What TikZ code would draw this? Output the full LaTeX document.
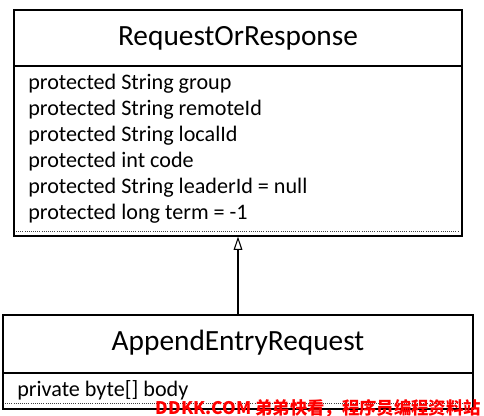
\documentclass[tikz,border=0pt]{standalone}
\usepackage{fontspec}
\setmainfont{Carlito}
\newfontfamily\cjk{Noto Sans CJK SC}
\usetikzlibrary{
    arrows.meta,
    positioning
}
\tikzset{umlbox/.style={draw=black, line width=0.8pt, inner sep=0pt}}
\tikzset{umltitle/.style={inner sep=0pt, font=\fontsize{22}{26}\selectfont}}
\tikzset{umlattr/.style={anchor=west, inner sep=0pt, font=\fontsize{16.6}{19.5}\selectfont}}
\tikzset{umlsep/.style={densely dotted, line width=0.6pt, black!75}}

\begin{document}
\begin{tikzpicture}[x=0.75pt, y=-0.75pt]
                        \useasboundingbox (0,0) rectangle (484,416);
                        % parent class
                        \node[umlbox, minimum width=336pt, minimum height=169.5pt] (ror) at (238,123) {};
                        \node[umltitle] (rortitle) at (238,38) {RequestOrResponse};
                        \draw[line width=0.8pt] (14,66) -- (462,66);
                        \foreach \txt [count=\i] in {protected String group, protected String remoteId, protected String localId, protected int code, protected String leaderId = null, protected long term = -1}
                            \node[umlattr] (attr\i) at (28, {58+26*\i}) {\txt};
                        \draw[umlsep] (16,231) -- (459,231);
                        % child class
                        \node[umlbox, minimum width=352.5pt, minimum height=70.5pt] (aer) at (238,362) {};
                        \node[umltitle] (aertitle) at (238,343) {AppendEntryRequest};
                        \draw[line width=0.8pt] (3,373) -- (473,373);
                        \node[umlattr] (body) at (17,390) {private byte[] body};
                        \draw[umlsep] (5,403) -- (470,403);
                        \draw[-{Triangle[open, length=10pt, width=6.5pt]}, line width=0.8pt]
                        (aer.north) -- (ror.south);
                        \node[anchor=east, text=red, inner sep=0pt, font=\cjk\bfseries\fontsize{13}{15}\selectfont] (mark) at (481,408) {DDKK.COM 弟弟快看，程序员编程资料站};
                    \end{tikzpicture}
\end{document}
